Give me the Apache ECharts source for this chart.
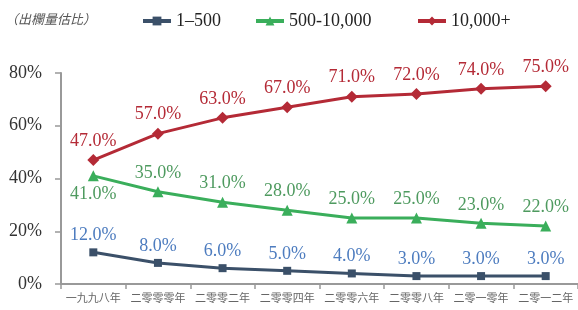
<!DOCTYPE html>
<html><head><meta charset="utf-8">
<script src="https://cdn.jsdelivr.net/npm/echarts@6/dist/echarts.min.js"></script>
<style>html,body{margin:0;padding:0;background:#fff}#c{width:578px;height:310px}</style>
</head><body><div id="c"></div>
<script>
const categories = ['一九九八年','二零零零年','二零零二年','二零零四年','二零零六年','二零零八年','二零一零年','二零一二年'];
const seriesNames = ['1–500','500-10,000','10,000+'];
const small = [12, 8, 6, 5, 4, 3, 3, 3];
const medium = [41, 35, 31, 28, 25, 25, 23, 22];
const large = [47, 57, 63, 67, 71, 72, 74, 75];
const yTicks = [0, 20, 40, 60, 80];

const serif = 'Liberation Serif';
const chart = echarts.init(document.getElementById('c'));
function lbl(color, pos){
  return {show:true, position:pos, distance:4, fontFamily:serif, fontSize:18, color:color,
    formatter:p=>p.value.toFixed(1)+'%'};
}
const legendText = {fontFamily:serif, fontSize:18, color:'#222'};
const legBase = {top:7, itemWidth:28, itemHeight:11, itemGap:4, textStyle:legendText, lineStyle:{width:4}};
chart.setOption({
  animation:false,
  title:{text:'（出欄量估比）', left:0, top:8, textStyle:{fontFamily:'Noto Sans CJK TC', fontSize:13, fontStyle:'italic', fontWeight:'normal', color:'#555'}},
  legend:[
    Object.assign({data:[seriesNames[0]], left:136}, legBase),
    Object.assign({data:[seriesNames[1]], left:249}, legBase),
    Object.assign({data:[seriesNames[2]], left:411}, legBase)
  ],
  grid:{left:61, right:-8, top:73, bottom:26, containLabel:false},
  xAxis:{type:'category', data:categories, boundaryGap:true,
    axisLine:{lineStyle:{color:'#999', width:2}},
    axisTick:{show:true, length:5, lineStyle:{color:'#999', width:1.5}},
    axisLabel:{fontFamily:'Noto Sans CJK SC', fontSize:11, color:'#666', margin:8, interval:0}},
  yAxis:{type:'value', min:yTicks[0], max:yTicks[yTicks.length-1], interval:20,
    axisLine:{show:true, lineStyle:{color:'#999', width:2}},
    axisTick:{show:true, inside:false, length:6, lineStyle:{color:'#999', width:1.5}},
    splitLine:{show:false},
    axisLabel:{formatter:'{value}%', fontFamily:serif, fontSize:18, color:'#333', margin:19}},
  series:[
    {name:seriesNames[0], type:'line', data:small, symbol:'rect', symbolSize:8,
      itemStyle:{color:'#3b5069'}, lineStyle:{width:3, color:'#3b5069'},
      label:lbl('#4d7cbf','top')},
    {name:seriesNames[1], type:'line', data:medium.map((v,i)=>i===0?{value:v,label:{position:'bottom'}}:v), symbol:'triangle', symbolSize:11,
      itemStyle:{color:'#3aae5b'}, lineStyle:{width:3, color:'#3aae5b'},
      label:lbl('#4e9a5f','top')},
    {name:seriesNames[2], type:'line', data:large, symbol:'diamond', symbolSize:12,
      itemStyle:{color:'#b42a36'}, lineStyle:{width:3, color:'#b42a36'},
      label:lbl('#b42a36','top')}
  ]
});
</script></body></html>
